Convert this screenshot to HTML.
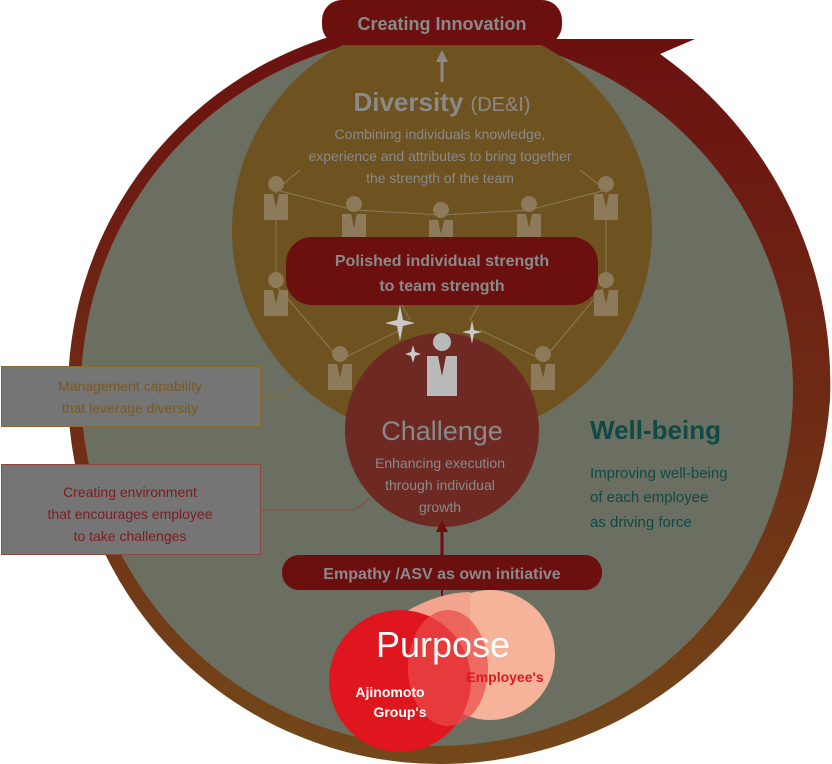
<!DOCTYPE html>
<html><head><meta charset="utf-8"><style>
html,body{margin:0;padding:0;background:#fff;width:832px;height:764px;overflow:hidden}
svg{display:block}
text{font-family:"Liberation Sans",sans-serif}
</style></head><body>
<svg width="832" height="764" viewBox="0 0 832 764" xmlns="http://www.w3.org/2000/svg">
<defs>
<linearGradient id="ring" gradientUnits="userSpaceOnUse" x1="0" y1="20" x2="0" y2="764">
<stop offset="0" stop-color="#6b1010"/><stop offset="0.5" stop-color="#6e2a14"/><stop offset="1" stop-color="#73481a"/>
</linearGradient>
<g id="person">
<circle cx="0" cy="-12" r="8" fill="#8c7a5a"/>
<path d="M-12,-2 h24 v26 h-24z" fill="#8c7a5a"/>
<path d="M-3,-2 l3,14 l3,-14z" fill="#6e521f"/>
</g>
</defs>
<!-- outer ring -->
<circle cx="440" cy="392" r="372" fill="url(#ring)"/>
<path d="M540,39 L695,39 L660,54 A405,405 0 0 1 830,400 A392,392 0 0 1 440,764 L440,392 Z" fill="url(#ring)"/>
<circle cx="437" cy="390" r="356" fill="#6b6f61"/>
<!-- gold circle -->
<circle cx="442" cy="230" r="210" fill="#6e521f"/>
<!-- connection lines -->
<g stroke="#8c7a5a" stroke-width="1" fill="none">
<path d="M276,190 L354,210 L441,215 L529,210 L606,190"/>
<path d="M276,190 L276,285 M606,190 L606,285"/>
<path d="M276,285 L340,360 M606,285 L543,360"/>
<path d="M340,360 L400,330 M543,360 L480,330 M354,215 L410,320 M529,215 L470,320"/>
<path d="M276,190 L300,170 M606,190 L580,170"/>
</g>
<use href="#person" x="276" y="196"/>
<use href="#person" x="354" y="216"/>
<use href="#person" x="441" y="222"/>
<use href="#person" x="529" y="216"/>
<use href="#person" x="606" y="196"/>
<use href="#person" x="276" y="292"/>
<use href="#person" x="606" y="292"/>
<use href="#person" x="340" y="366"/>
<use href="#person" x="543" y="366"/>
<!-- challenge circle -->
<circle cx="442" cy="430" r="97" fill="#6e2a22"/>
<g fill="#b9b9b9">
<circle cx="442" cy="342" r="9"/>
<path d="M427,356 h30 v40 h-30z"/>
</g>
<path d="M438,356 l4,20 l4,-20z" fill="#6e2a22"/>
<g fill="#c8c8c8">
<path d="M400,305 l3,15 l12,3 l-12,3 l-3,15 l-3,-15 l-12,-3 l12,-3z"/>
<path d="M472,320 l2,10 l8,2 l-8,2 l-2,10 l-2,-10 l-8,-2 l8,-2z"/>
<path d="M413,345 l2,7 l6,2 l-6,2 l-2,7 l-2,-7 l-6,-2 l6,-2z"/>
</g>
<!-- pills -->
<rect x="322" y="0" width="240" height="45" rx="20" fill="#6b0f0f"/>
<text x="442" y="30" text-anchor="middle" font-size="18" font-weight="bold" fill="#8a8a8a">Creating Innovation</text>
<path d="M442,82 V60" stroke="#8a8a8a" stroke-width="3"/>
<path d="M436,62 L442,50 L448,62Z" fill="#8a8a8a"/>
<text x="442" y="111" text-anchor="middle" font-size="26" font-weight="bold" fill="#8a8a8a">Diversity <tspan font-size="20" font-weight="normal">(DE&amp;I)</tspan></text>
<g font-size="14" fill="#8a8a8a" text-anchor="middle">
<text x="440" y="139">Combining individuals knowledge,</text>
<text x="440" y="161">experience and attributes to bring together</text>
<text x="440" y="183">the strength of the team</text>
</g>
<rect x="286" y="237" width="312" height="68" rx="26" fill="#6b0f0f"/>
<g font-size="16" font-weight="bold" fill="#8a8a8a" text-anchor="middle">
<text x="442" y="266">Polished individual strength</text>
<text x="442" y="291">to team strength</text>
</g>
<text x="442" y="440" text-anchor="middle" font-size="27" fill="#8a8a8a">Challenge</text>
<g font-size="14" fill="#8a8a8a" text-anchor="middle">
<text x="440" y="468">Enhancing execution</text>
<text x="440" y="490">through individual</text>
<text x="440" y="512">growth</text>
</g>
<path d="M442,555 V528" stroke="#6b0f0f" stroke-width="3"/>
<path d="M436,532 L442,520 L448,532Z" fill="#6b0f0f"/>
<rect x="282" y="555" width="320" height="35" rx="17" fill="#6b0f0f"/>
<text x="442" y="579" text-anchor="middle" font-size="16" font-weight="bold" fill="#8a8a8a">Empathy /ASV as own initiative</text>
<path d="M442,590 V605" stroke="#6b0f0f" stroke-width="2"/>
<!-- Well-being -->
<text x="590" y="439" font-size="26" font-weight="bold" fill="#0f4a46">Well-being</text>
<g font-size="15" fill="#0f4a46">
<text x="590" y="478">Improving well-being</text>
<text x="590" y="502">of each employee</text>
<text x="590" y="527">as driving force</text>
</g>
<!-- left boxes -->
<path d="M261,396 H283 L300,380" stroke="#8a6a2a" fill="none"/>
<rect x="1.5" y="366.5" width="259" height="60" fill="#757575" stroke="#8a6a2a"/>
<g font-size="14" fill="#7a5a20" text-anchor="middle">
<text x="130" y="391">Management capability</text>
<text x="130" y="413">that leverage diversity</text>
</g>
<path d="M261,510 H355 L370,498" stroke="#8a4a40" fill="none"/>
<rect x="1.5" y="464.5" width="259" height="90" fill="#757575" stroke="#8a4a40"/>
<g font-size="14" fill="#7a1e1e" text-anchor="middle">
<text x="130" y="497">Creating environment</text>
<text x="130" y="519">that encourages employee</text>
<text x="130" y="541">to take challenges</text>
</g>
<!-- purpose -->
<circle cx="490" cy="655" r="65" fill="#f5b49a"/>
<path d="M405,612 Q440,592 470,592 L470,700 L410,700 Z" fill="#f2a48e"/>
<circle cx="400" cy="681" r="71" fill="#e0161f"/>
<ellipse cx="448" cy="668" rx="40" ry="58" fill="#ea4a48" opacity="0.7"/>
<text x="443" y="657" text-anchor="middle" font-size="36" fill="#fff">Purpose</text>
<text x="505" y="682" text-anchor="middle" font-size="14" font-weight="bold" fill="#e0161f">Employee's</text>
<text x="390" y="697" text-anchor="middle" font-size="14" font-weight="bold" fill="#fff">Ajinomoto</text>
<text x="400" y="717" text-anchor="middle" font-size="14" font-weight="bold" fill="#fff">Group's</text>
</svg>
</body></html>
